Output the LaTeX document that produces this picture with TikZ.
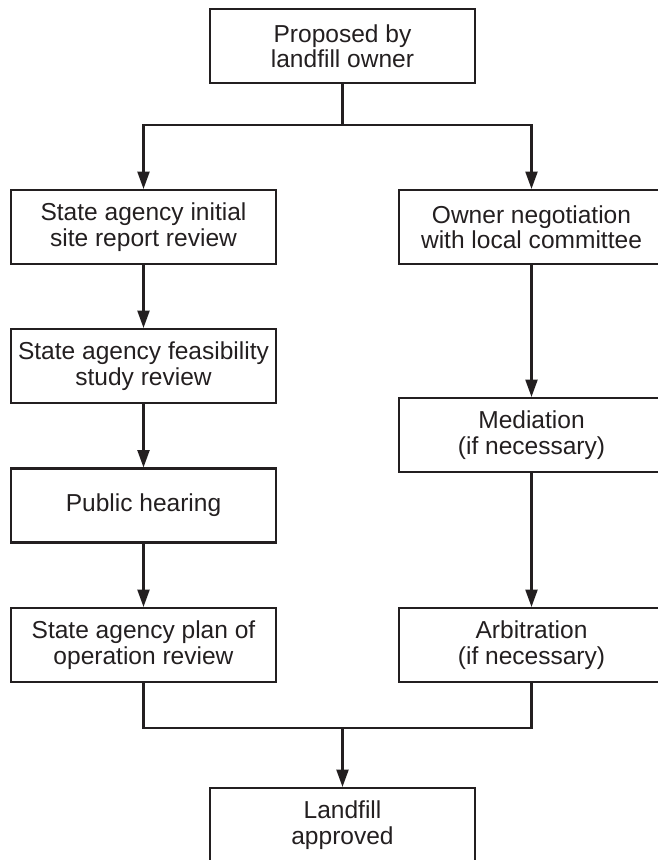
\documentclass[tikz,border=0pt]{standalone}
\usepackage{fontspec}
\setmainfont{Liberation Sans}
\usetikzlibrary{arrows.meta}
\definecolor{ink}{HTML}{231F20}
\tikzset{
  box/.style={draw=ink, line width=1.6pt, text=ink, align=center,
    minimum width=198.5pt, minimum height=55.5pt, inner sep=0pt,
    font=\fontsize{18.4}{19}\selectfont},
  link/.style={draw=ink, line width=1.6pt},
  flow/.style={link, -{Triangle[length=13pt,width=9pt]}}
}
\begin{document}
\begin{tikzpicture}[x=0.75pt, y=-0.75pt]
  \useasboundingbox (0,0) rectangle (657,860);
  % start and the two branches
  \node[box] (owner) at (342.5,46) {Proposed by\\landfill owner};
  \node[box] (siterpt) at (143.5,227) {State agency initial\\site report review};
  \node[box] (feasib) at (143.5,366) {State agency feasibility\\study review};
  \node[box] (hearing) at (143.5,505.5) {Public hearing};
  \node[box] (opplan) at (143.5,645) {State agency plan of\\operation review};
  \node[box] (negot) at (531.5,227) {Owner negotiation\\with local committee};
  \node[box] (mediat) at (531.5,435) {Mediation\\(if necessary)};
  \node[box] (arbitr) at (531.5,645) {Arbitration\\(if necessary)};
  \node[box] (approved) at (342.5,825) {Landfill\\approved};
  \coordinate (fork) at (342.5,125);
  \coordinate (join) at (342.5,728);

  \draw[link] (owner) -- (fork);
  \draw[flow] (fork) -| (siterpt);
  \draw[flow] (fork) -| (negot);
  \draw[flow] (siterpt) -- (feasib);
  \draw[flow] (feasib) -- (hearing);
  \draw[flow] (hearing) -- (opplan);
  \draw[flow] (negot) -- (mediat);
  \draw[flow] (mediat) -- (arbitr);
  % both sides meet before approval
  \draw[link] (opplan) |- (join) -| (arbitr);
  \draw[flow] (join) -- (approved);
\end{tikzpicture}
\end{document}
